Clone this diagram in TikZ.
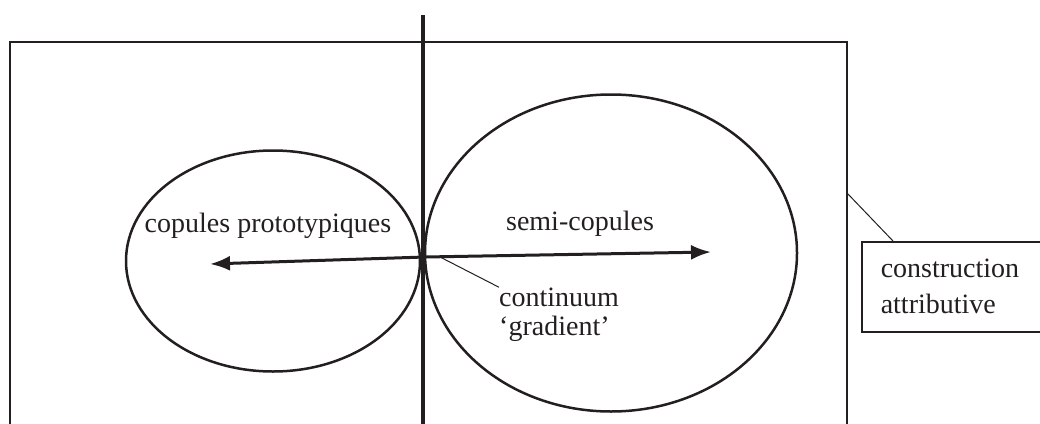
\documentclass[tikz,border=0pt]{standalone}
\usepackage{fontspec}
\setmainfont{Liberation Serif}
\usetikzlibrary{arrows.meta,positioning,shapes.geometric}
\definecolor{inkgray}{RGB}{35,31,32}

\begin{document}
\begin{tikzpicture}[x=1pt,y=-1pt,
    ell/.style={draw=inkgray,line width=2.5pt,ellipse,inner sep=0pt},
    lbl/.style={inner sep=0pt,align=left,font=\fontsize{28}{36}\selectfont,text=inkgray},
    lead/.style={draw=inkgray,line width=1pt},
    arr/.style={-{Latex[length=20pt,width=15pt]},line width=3pt,inkgray}]
    \useasboundingbox (0,0) rectangle (1040,423);
    % frame, open at the bottom
    \coordinate (fbl) at (10,425);
    \coordinate (fbr) at (847,425);
    \draw[inkgray,line width=2pt] (fbl) -- (10,42) -- (847,42) -- (fbr);
    \draw[inkgray,line width=4pt] (423,15) -- (423,425);
    \node[ell,minimum width=294,minimum height=221] (pro) at (273,261) {};
    \node[ell,minimum width=372,minimum height=317] (semi) at (611,253) {};
    \node[lbl,anchor=base] (protxt) at (268,232) {copules prototypiques};
    \node[lbl,anchor=base] (semitxt) at (580,230) {semi-copules};
    % continuum arrows
    \coordinate (mid) at (425,257);
    \coordinate (lend) at (210,264);
    \coordinate (rend) at (711,252);
    \draw[arr] (mid) -- (lend);
    \draw[arr] (mid) -- (rend);
    \node[lbl,anchor=base west,font=\fontsize{28}{29}\selectfont] (cont) at (499,335) {continuum\\‘gradient’};
    \coordinate (cpt) at (440,257);
    \draw[lead] (cpt) -- (cont.north west);
    % box on the right
    \node[draw=inkgray,line width=1.5pt,lbl,inner xsep=19pt,inner ysep=12pt,anchor=north west,
          minimum width=180,minimum height=90,text width=142] (cons) at (861,241) {construction\\attributive};
    \coordinate (fpt) at (847,193);
    \draw[lead] (fpt) -- (893,241);
\end{tikzpicture}
\end{document}
